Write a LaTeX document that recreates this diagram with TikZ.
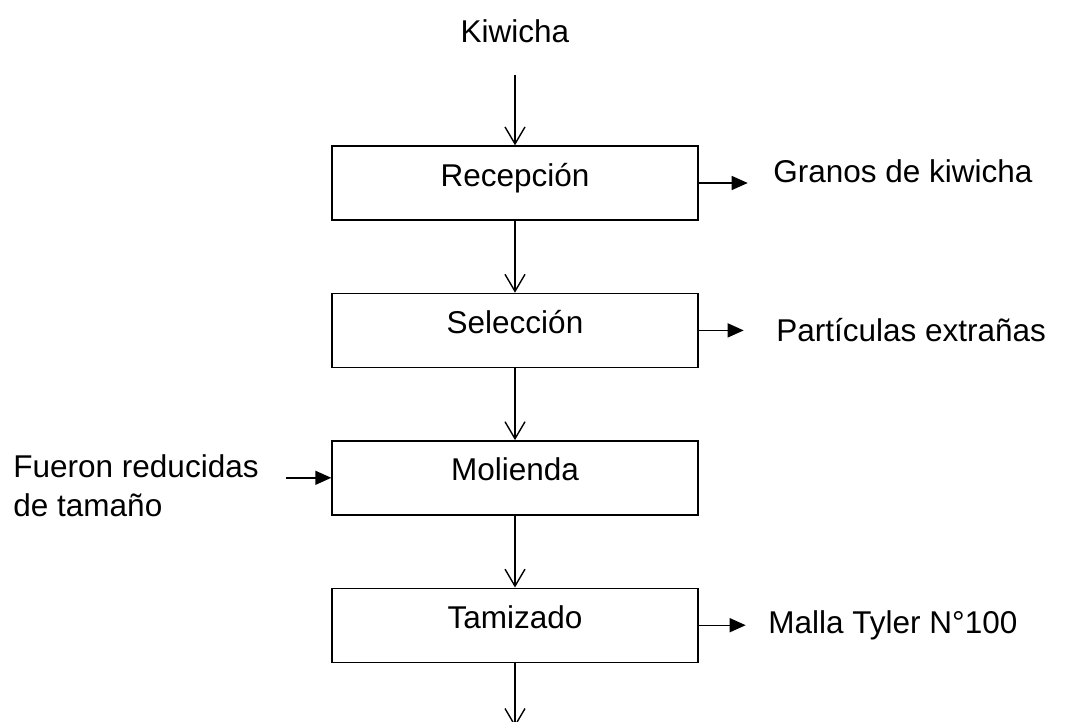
\documentclass[tikz,border=0pt]{standalone}
\usepackage{fontspec}
\setmainfont{Liberation Sans}
\usetikzlibrary{positioning,arrows.meta}

\begin{document}
\begin{tikzpicture}[line width=0.7pt, node distance=36pt,
	every node/.style={font=\fontsize{15.75pt}{19.5pt}\selectfont},
	etapa/.style={draw, minimum width=183pt, minimum height=37pt, inner sep=0pt, text height=11.8pt, text depth=8.7pt},
	nota/.style={inner sep=0pt},
	flujo/.style={-{Straight Barb[length=8.5pt,width=10pt]}},
	salida/.style={-{Triangle[length=8pt,width=7pt]}}]
\useasboundingbox (0,0) rectangle (532.5pt,-361pt);

% etapas
\node[etapa] (rec) at (257.5pt,-91.5pt) {Recepción};
\node[etapa, below=of rec] (sel) {Selección};
\node[etapa, below=of sel] (mol) {Molienda};
\node[etapa, below=of mol] (tam) {Tamizado};

% entrada y salida
\coordinate[above=35pt of rec] (ini);
\coordinate[below=32pt of tam] (fin);
\node[nota, above=16pt of ini] (kiwicha) {Kiwicha};

% notas laterales
\node[nota, right=37pt of rec, yshift=6pt] (granos) {Granos de kiwicha};
\node[nota, right=38.5pt of sel] (particulas) {Partículas extrañas};
\node[nota, right=34.5pt of tam] (malla) {Malla Tyler N°100};
\node[nota, align=left, left=36pt of mol, yshift=-4pt] (reduc) {Fueron reducidas\\de tamaño};

\draw[flujo] (ini) -- (rec);
\draw[flujo] (rec) -- (sel);
\draw[flujo] (sel) -- (mol);
\draw[flujo] (mol) -- (tam);
\draw[flujo] (tam) -- (fin);

\draw[salida] (rec.east) -- ([xshift=-12.5pt]rec.east -| granos.west);
\draw[salida] (sel.east) -- ([xshift=-16pt]sel.east -| particulas.west);
\draw[salida] (tam.east) -- ([xshift=-11pt]tam.east -| malla.west);
\draw[salida] ([xshift=13.5pt]mol.west -| reduc.east) -- (mol.west);
%\draw[salida] (mol.east) -- ++(24pt,0);
\end{tikzpicture}
\end{document}
